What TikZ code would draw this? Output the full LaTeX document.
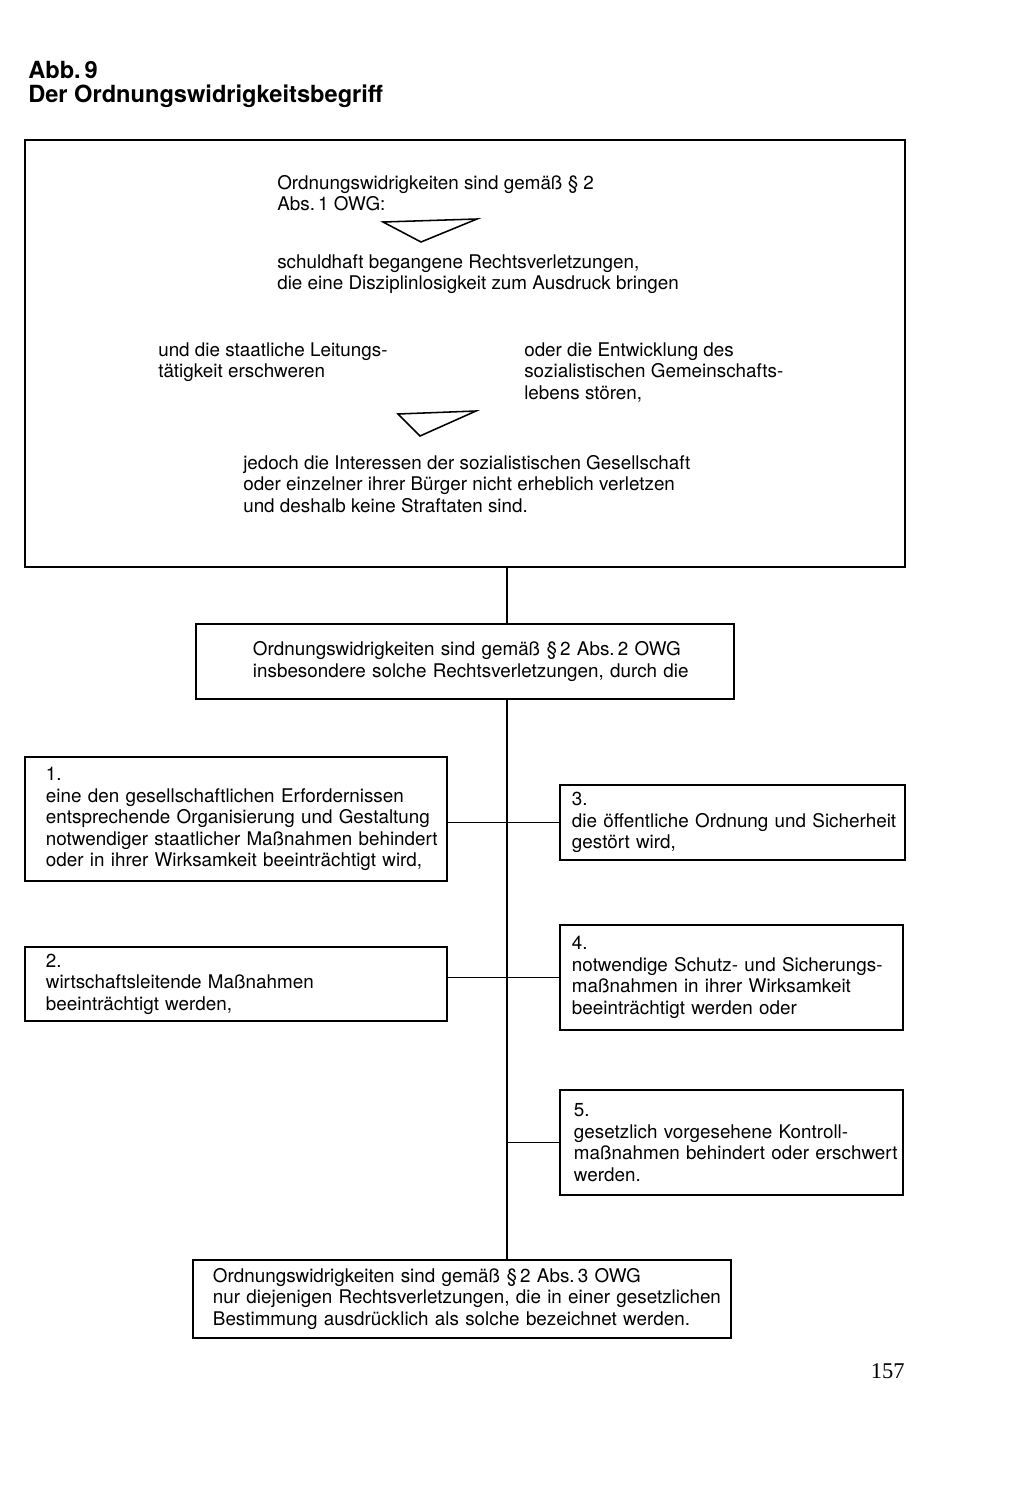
\documentclass[tikz,border=0pt]{standalone}
\usepackage{fontspec}
\setmainfont{TeX Gyre Heros}
\newfontfamily\pagenumfont{Liberation Serif}
\usetikzlibrary{positioning}

\begin{document}
\begin{tikzpicture}[
        x=0.025cm, y=-0.025cm,
        every node/.style={font=\fontsize{13.4}{15.3}\selectfont},
        box/.style={
            draw,
            rectangle,
            line width=1.2pt,
            align=left,
            inner ysep=0pt
        },
        plain/.style={inner sep=0pt, align=left, anchor=north west},
        link/.style={line width=1.2pt},
        tri/.style={line width=1.1pt, line join=miter}
    ]
    \useasboundingbox (0,0) rectangle (1024,1492);

    % Title
    \node[plain, font=\bfseries\fontsize{16.8}{17}\selectfont] (title) at (28,61) {%
    Abb.\,9\\
    Der Ordnungswidrigkeitsbegriff
    };

    % Upper frame
    \node[draw, line width=1.2pt, minimum width=22cm, minimum height=10.675cm] (main) at (465,353.5) {};

    \node[plain] (owg1) at (277,175) {%
    Ordnungswidrigkeiten sind gemäß § 2\\
    Abs.\,1 OWG:
    };
    \draw[tri] (383,222) -- (477,219) -- (421,242) -- cycle;

    \node[plain] (schuld) at (277,254) {%
    schuldhaft begangene Rechtsverletzungen,\\
    die eine Disziplinlosigkeit zum Ausdruck bringen
    };

    \node[plain] (leitung) at (158,342) {%
    und die staatliche Leitungs-\\
    tätigkeit erschweren
    };

    \node[plain] (gemeinschaft) at (524,342) {%
    oder die Entwicklung des\\
    sozialistischen Gemeinschafts-\\
    lebens stören,
    };
    \draw[tri] (398,414) -- (476,411) -- (420,436) -- cycle;

    \node[plain] (interessen) at (243,455) {%
    jedoch die Interessen der sozialistischen Gesellschaft\\
    oder einzelner ihrer Bürger nicht erheblich verletzen\\
    und deshalb keine Straftaten sind.
    };

    % Abs. 2
    \node[box, minimum width=13.45cm, minimum height=1.875cm,
          text width=10.6cm, inner xsep=1.425cm] (owg2) [below=1.375cm of main] {%
    \mbox{Ordnungswidrigkeiten sind gemäß §\,2 Abs.\,2 OWG}\\
    \mbox{insbesondere solche Rechtsverletzungen, durch die}
    };

    % Left column
    \node[box, minimum width=10.55cm, minimum height=3.1cm,
          text width=9.5cm, inner xsep=0.525cm] (b1) at (236,819) {%
    1.\\
    \mbox{eine den gesellschaftlichen Erfordernissen}\\
    \mbox{entsprechende Organisierung und Gestaltung}\\
    \mbox{notwendiger staatlicher Maßnahmen behindert}\\
    \mbox{oder in ihrer Wirksamkeit beeinträchtigt wird,}
    };

    \node[box, minimum width=10.55cm, minimum height=1.85cm,
          text width=9.5cm, inner xsep=0.525cm] (b2) at (236,984) {%
    2.\\
    \mbox{wirtschaftsleitende Maßnahmen}\\
    \mbox{beeinträchtigt werden,}
    };

    % Right column
    \node[box, minimum width=8.625cm, minimum height=1.875cm,
          text width=8.025cm, inner xsep=0.3cm] (b3) at (732.5,822.5) {%
    3.\\
    \mbox{die öffentliche Ordnung und Sicherheit}\\
    \mbox{gestört wird,}
    };

    \node[box, minimum width=8.575cm, minimum height=2.625cm,
          text width=7.975cm, inner xsep=0.3cm] (b4) at (731.5,977.5) {%
    4.\\
    \mbox{notwendige Schutz- und Sicherungs-}\\
    \mbox{maßnahmen in ihrer Wirksamkeit}\\
    \mbox{beeinträchtigt werden oder}
    };

    \node[box, minimum width=8.575cm, minimum height=2.625cm,
          text width=7.875cm, inner xsep=0.35cm] (b5) at (731.5,1142.5) {%
    5.\\
    \mbox{gesetzlich vorgesehene Kontroll-}\\
    \mbox{maßnahmen behindert oder erschwert}\\
    \mbox{werden.}
    };

    % Abs. 3
    \node[box, minimum width=13.45cm, minimum height=1.95cm,
          text width=12.45cm, inner xsep=0.5cm] (owg3) at (462,1299) {%
    \mbox{Ordnungswidrigkeiten sind gemäß §\,2 Abs.\,3 OWG}\\
    \mbox{nur diejenigen Rechtsverletzungen, die in einer gesetzlichen}\\
    \mbox{Bestimmung ausdrücklich als solche bezeichnet werden.}
    };

    \node[anchor=base east, inner sep=0pt,
          font=\pagenumfont\fontsize{16}{16}\selectfont] (pagenum) at (905,1378) {157};

    % Lines
    \coordinate (spine) at (507,0);
    \draw[link] (main.south -| spine) -- (owg2.north -| spine);
    \draw[link] (owg2.south -| spine) -- (owg3.north -| spine);
    \draw[link] (b3.west -| b1.east) -- (b3.west);
    \draw[link] (b4.west -| b2.east) -- (b4.west);
    \draw[link] (b5.west -| spine) -- (b5.west);

\end{tikzpicture}
\end{document}
